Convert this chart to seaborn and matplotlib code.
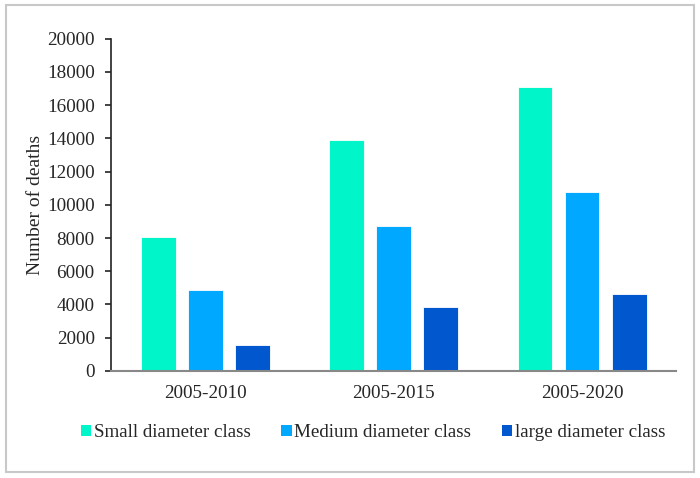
import matplotlib.pyplot as plt
import matplotlib.patches as mpatches
import pandas as pd
import seaborn as sns

periods = ["2005-2010", "2005-2015", "2005-2020"]
classes = ["Small diameter class", "Medium diameter class", "large diameter class"]
small_vals = [8050, 13880, 17100]
medium_vals = [4880, 8740, 10800]
large_vals = [1580, 3820, 4650]
y_ticks = [0, 2000, 4000, 6000, 8000, 10000, 12000, 14000, 16000, 18000, 20000]

COLORS = ["#00F5C8", "#00A8FF", "#0057CE"]

df = pd.DataFrame({
    "period": periods * 3,
    "cls": [classes[0]] * 3 + [classes[1]] * 3 + [classes[2]] * 3,
    "deaths": small_vals + medium_vals + large_vals,
})

sns.set_style("white")
plt.rcParams["font.family"] = ["Liberation Serif", "DejaVu Serif"]

fig = plt.figure(figsize=(7, 4.78), dpi=100)
ax = fig.add_axes([0.159, 0.224, 0.807, 0.695])

sns.barplot(data=df, x="period", y="deaths", hue="cls", hue_order=classes,
            palette=COLORS, saturation=1, width=0.75, gap=0.26, ax=ax,
            edgecolor="white", linewidth=0.6, legend=False)

ax.set_ylim(0, 20000)
ax.set_xlim(-0.5, 2.5)
ax.set_yticks(y_ticks)
ax.set_yticklabels([str(t) for t in y_ticks], fontsize=13.8)
ax.tick_params(axis="x", labelsize=13.8, length=0, pad=10)
ax.tick_params(axis="y", direction="out", length=4, width=1.2, color="#222222", left=True, pad=8)
ax.set_xlabel("")
ax.set_ylabel("Number of deaths", fontsize=14, labelpad=2)

for s in ["top", "right"]:
    ax.spines[s].set_visible(False)
ax.spines["left"].set_color("#222222")
ax.spines["left"].set_linewidth(1.2)
ax.spines["bottom"].set_color("#888888")
ax.spines["bottom"].set_linewidth(1.5)

handles = [mpatches.Patch(facecolor=c, edgecolor="none", label=l) for c, l in zip(COLORS, classes)]
fig.legend(handles=handles, loc="center", bbox_to_anchor=(0.533, 0.095), ncol=3,
           frameon=False, fontsize=13.7, handlelength=0.55, handleheight=0.55,
           handletextpad=0.15, columnspacing=1.58)

fig.patches.append(mpatches.Rectangle((0.008, 0.012), 0.984, 0.978, transform=fig.transFigure,
                                      fill=False, edgecolor="#c8c8c8", linewidth=1.5))

fig.savefig("out.png", dpi=100)
